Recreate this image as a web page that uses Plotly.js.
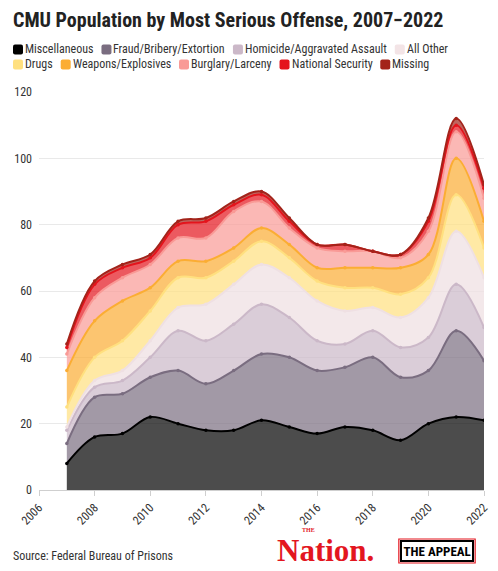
<!DOCTYPE html>
<html><head><meta charset="utf-8">
<script src="https://cdn.plot.ly/plotly-3.0.1.min.js"></script>
<style>html,body{margin:0;padding:0;background:#fff;} #chart{width:498px;height:571px;}</style>
</head><body><div id="chart"></div>
<script>
// ---------------- DATA ----------------
const years = [2007,2008,2009,2010,2011,2012,2013,2014,2015,2016,2017,2018,2019,2020,2021,2022];
const miscellaneous    = [8,16,17,22,20,18,18,21,19,17,19,18,15,20,22,21];
const fraud            = [6,12,12,12,16,14,18,20,21,19,18,22,19,16,26,18];
const homicide         = [4,3,4,6,12,13,14,15,12,9,7,8,9,10,14,10];
const allOther         = [1,2,3,5,7,11,12,12,12,12,10,7,9,12,16,15];
const drugs            = [6,7,9,9,9,8,7,7,6,6,7,6,7,6,11,9];
const weapons          = [11,11,12,7,5,5,4,4,4,4,6,6,8,7,11,8];
const burglary         = [5,7,7,7,7,7,11,8,5,6,5,5,3,7,8,7];
const nationalSecurity = [2,4,3,2,4,5,2,2,2,1,2,0,1,3,2,3];
const missing          = [1,1,1,1,1,1,1,1,1,0,0,0,0,1,2,1];

const seriesNames = ['Miscellaneous','Fraud/Bribery/Extortion','Homicide/Aggravated Assault','All Other',
  'Drugs','Weapons/Explosives','Burglary/Larceny','National Security','Missing'];
const seriesValues = [miscellaneous, fraud, homicide, allOther, drugs, weapons, burglary, nationalSecurity, missing];
const xTickValues = [2006,2008,2010,2012,2014,2016,2018,2020,2022];
const xTickLabels = ['2006','2008','2010','2012','2014','2016','2018','2020','2022'];
const yTickValues = [0,20,40,60,80,100,120];
const yTickLabels = ['0','20','40','60','80','100','120'];
const titleText = 'CMU Population by Most Serious Offense, 2007\u22122022';
const sourceText = 'Source: Federal Bureau of Prisons';

// ---------------- STYLE ----------------
const lineColors = ['#000000','#7a6d80','#cbb8c8','#efe0e3','#ffe07f','#fbad33','#f99a96','#e4141c','#a3231a'];
const swatchColors = ['#000000','#7a6d80','#cbb8c8','#f3e4e6','#ffe07f','#fbad33','#f99a96','#e4141c','#a3231a'];
function rgba(hex,a){const n=parseInt(hex.slice(1),16);return `rgba(${n>>16},${(n>>8)&255},${n&255},${a})`;}

const W=498,H=571,M={l:39,r:14,t:92,b:81};
const PW=W-M.l-M.r, PH=H-M.t-M.b;
const COND="'Roboto Condensed','Liberation Sans Narrow','DejaVu Sans Condensed',Roboto,sans-serif";
const px2x = p => (p-M.l)/PW;
const py2y = p => 1-(p-M.t)/PH;

const traces = seriesNames.map((name,i)=>({
  type:'scatter', x:years, y:seriesValues[i], name:name, stackgroup:'one',
  mode:'lines+markers',
  line:{color:lineColors[i], width:2, shape:'spline', smoothing:1},
  marker:{size:3.5, color:lineColors[i]},
  fillcolor: rgba(lineColors[i], i===3?0.75:0.7),
  showlegend:false, hoverinfo:'skip'
}));

// ---------------- LEGEND (manual) ----------------
const ctx=document.createElement('canvas').getContext('2d');
ctx.font = `12px ${COND}`;
const shapes=[], annotations=[];
const rowBreak=4, rowsY=[49.5,64.5];
let cx=13, row=0;
seriesNames.forEach((name,i)=>{
  if(i===rowBreak){row=1;cx=13;}
  const cy=rowsY[row];
  shapes.push({type:'path', xref:'paper', yref:'paper', xsizemode:'pixel', ysizemode:'pixel',
    xanchor:px2x(cx+5), yanchor:py2y(cy),
    path:'M -3,-5 L 3,-5 Q 5,-5 5,-3 L 5,3 Q 5,5 3,5 L -3,5 Q -5,5 -5,3 L -5,-3 Q -5,-5 -3,-5 Z',
    fillcolor:swatchColors[i], line:{width:0}});
  annotations.push({xref:'paper', yref:'paper', x:px2x(cx+10), y:py2y(cy), xanchor:'left', yanchor:'middle',
    text:name, showarrow:false, font:{family:COND, size:12, color:'#333'}});
  cx += 12 + ctx.measureText(name).width + 8;
});

// source + logos
annotations.push({xref:'paper', yref:'paper', x:px2x(11), y:py2y(556), xanchor:'left', yanchor:'middle',
  text:sourceText, showarrow:false, font:{family:COND, size:12, color:'#333'}});
annotations.push({xref:'paper', yref:'paper', x:px2x(275), y:py2y(550.5), xanchor:'left', yanchor:'middle',
  text:'Nation.', showarrow:false,
  font:{family:"'Liberation Serif','DejaVu Serif',serif", size:31, color:'#e3161f', weight:700}});
annotations.push({xref:'paper', yref:'paper', x:px2x(308), y:py2y(529.5), xanchor:'center', yanchor:'middle',
  borderpad:0, text:'THE', showarrow:false, font:{family:"'Liberation Serif',serif", size:6, color:'#e3161f', weight:700}});
ctx.font = `bold 13px ${COND}`;
const apW = ctx.measureText('THE APPEAL').width + 6;
const apC = 437;
shapes.push({type:'rect', xref:'paper', yref:'paper', x0:px2x(apC-apW/2-1.5), x1:px2x(apC+apW/2+1.5),
  y0:py2y(563), y1:py2y(539), fillcolor:'rgba(0,0,0,0)', line:{width:1.2, color:'#e3161f'}});
annotations.push({xref:'paper', yref:'paper', x:px2x(apC), y:py2y(551), xanchor:'center', yanchor:'middle',
  text:'<b>THE APPEAL</b>', showarrow:false, bgcolor:'#fff', bordercolor:'#000', borderwidth:2, borderpad:1.5,
  font:{family:COND, size:13, color:'#000'}});

const layout={
  width:W, height:H, margin:M, paper_bgcolor:'#fff', plot_bgcolor:'#fff',
  title:{text:titleText, xref:'container', yref:'container', x:13/W, xanchor:'left', y:1-20/H, yanchor:'middle',
    font:{family:COND, size:20, color:'#222', weight:700}},
  xaxis:{range:[2006,2022], tickvals:xTickValues, ticktext:xTickLabels, tickangle:-45, ticks:'outside', ticklen:5,
    tickcolor:'#cfcfcf', showline:true, linecolor:'#cfcfcf', linewidth:1, showgrid:false, zeroline:false,
    tickfont:{family:COND, size:12, color:'#333'}, fixedrange:true},
  yaxis:{range:[0,120], tickvals:yTickValues, ticktext:yTickLabels, showgrid:true, gridcolor:'#e9e9e9', gridwidth:1,
    zeroline:false, showline:false, ticks:'', ticklabelstandoff:6,
    tickfont:{family:COND, size:12, color:'#333'}, fixedrange:true},
  showlegend:false, shapes:shapes, annotations:annotations, hovermode:false
};
Plotly.newPlot('chart', traces, layout, {displayModeBar:false, staticPlot:true});
</script></body></html>
